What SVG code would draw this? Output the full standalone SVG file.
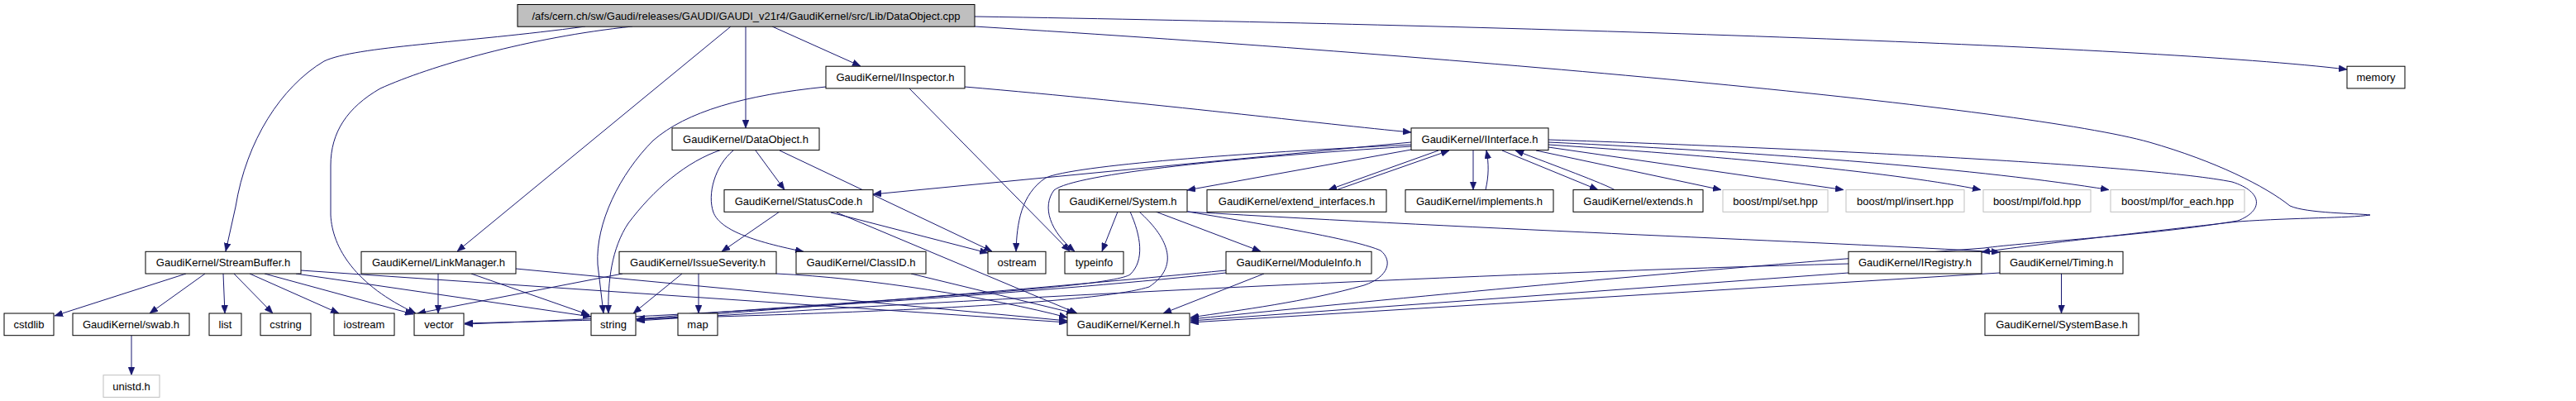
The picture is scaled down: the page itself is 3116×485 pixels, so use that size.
<svg xmlns="http://www.w3.org/2000/svg" width="3116" height="485" viewBox="0 0 3116 485">
<style>
.n rect{fill:#fff;stroke:#000;stroke-width:1}
.n.ext rect{stroke:#bfbfbf}
.n.root rect{fill:#bfbfbf}
.n text{font-family:"Liberation Sans",Arial,sans-serif;font-size:13px;text-anchor:middle;fill:#000}
#edges path{fill:none;stroke:#191970;stroke-width:1;marker-end:url(#arr)}
</style>
<defs>
<marker id="arr" viewBox="0 0 10 8" markerWidth="10" markerHeight="8" markerUnits="userSpaceOnUse" refX="10" refY="4" orient="auto">
<path d="M0,0 L10,4 L0,8 z" fill="#191970" stroke="#191970" stroke-width="0.5"/>
</marker>
</defs>
<rect width="3116" height="485" fill="#fff"/>
<g id="edges">
<!-- root -->
<path d="M708,32 C560,52 430,56 392,74 C340,105 298,170 285,250 L273,304"/>
<path d="M765,32 C640,45 520,80 460,107 C420,130 400,160 400,200 L400,260 C402,300 430,345 503,379"/>
<path d="M884,32 L553,304"/>
<path d="M902,32 L902,155"/>
<path d="M934,32 L1041,80"/>
<path d="M1179,20 C1800,30 2600,55 2839,84"/>
<path d="M1179,32 C1800,70 2450,130 2600,172 C2680,195 2740,225 2770,249 C2790,258 2850,258 2867,260 C2840,264 2780,263 2707,268 C2600,280 2460,296 2397,305"/>
<!-- IInspector -->
<path d="M1167,105 C1400,125 1600,150 1707,160"/>
<path d="M999,105 C900,115 830,135 790,170 C750,210 720,270 723,320 L730,379"/>
<path d="M1100,107 L1294,304"/>
<!-- DataObject -->
<path d="M914,182 L949,229.6"/>
<path d="M887,182 C865,200 855,235 863,257 C870,275 900,290 972,304.3"/>
<path d="M873,181 C830,195 790,230 760,270 C740,300 735,340 736,379"/>
<path d="M943,182 L1200,304"/>
<!-- StatusCode -->
<path d="M943,256 L873,304.3"/>
<path d="M1005,257 L1195,306"/>
<path d="M1012,257 L1303,379"/>
<!-- IInterface -->
<path d="M1707,172 L1056,235"/>
<path d="M1707,181 L1436,230"/>
<path d="M1707,175 C1500,185 1300,200 1265,215 C1235,235 1230,270 1229,304"/>
<path d="M1707,177 C1500,190 1300,210 1275,230 C1260,250 1270,280 1300,304"/>
<path d="M1740,182 L1607,229.6"/>
<path d="M1782,182 L1782,229.6"/>
<path d="M1817,182 L1933,229.6"/>
<path d="M1858,182 L2082,229.6"/>
<path d="M1873,178 L2230,229.6"/>
<path d="M1873,175 C2100,190 2300,210 2396,229.6"/>
<path d="M1873,172 C2150,185 2400,205 2551,229.6"/>
<path d="M1873,169 C2200,180 2600,200 2700,220 C2738,232 2738,255 2707,267 C2600,285 2450,293 2400,300 C2000,330 1700,360 1440,386"/>
<!-- back edges to IInterface -->
<path d="M1617,229.6 L1753,182"/>
<path d="M1797,229.6 C1801,212 1801,198 1798,182"/>
<path d="M1953,229.6 C1940,222 1880,200 1833,182"/>
<!-- System -->
<path d="M1352,256 L1333,304"/>
<path d="M1398,256 L1525,304"/>
<path d="M1436,256 C1800,278 2200,292 2419,305"/>
<path d="M1437,256 C1550,275 1640,290 1670,303 C1685,315 1680,335 1650,345 C1580,365 1500,375 1440,384"/>
<path d="M1367,256 C1380,285 1385,315 1367,332 C1340,350 1000,365 770,386"/>
<path d="M1378,256 C1410,285 1430,320 1390,347 C1300,375 800,385 562,391"/>
<!-- ModuleInfo -->
<path d="M1529,331 L1407,379"/>
<path d="M1483,327 C1300,345 1000,370 770,387"/>
<path d="M1483,330 C1300,350 900,380 562,392"/>
<!-- IRegistry -->
<path d="M2236,319 C1800,330 1200,360 770,388"/>
<path d="M2236,330 L1440,388"/>
<!-- Timing -->
<path d="M2419,330 L1440,390"/>
<path d="M2493.5,331 L2493.5,379"/>
<!-- StreamBuffer -->
<path d="M225,331 L66,382"/>
<path d="M248,331 L181,379"/>
<path d="M270,331 L272,379"/>
<path d="M283,331 L330,379"/>
<path d="M302,331 L410,379"/>
<path d="M320,331 L500,380"/>
<path d="M358,331 L715,383"/>
<path d="M364,327 L1291,390"/>
<!-- LinkManager -->
<path d="M530,331 L530,379"/>
<path d="M570,331 L713,381"/>
<path d="M624,325 L1291,388"/>
<!-- IssueSeverity -->
<path d="M753,331 L505,379"/>
<path d="M825,331 L766,379"/>
<path d="M845,331 L845,379"/>
<path d="M939,331 C1050,336 1200,360 1291,384"/>
<!-- ClassID -->
<path d="M1102,331 L1300,379"/>
<!-- swab -->
<path d="M159,406 L159,453.7"/>
</g>
<g id="n-root" class="n root"><rect x="626" y="5.5" width="553" height="26.7"/><text x="902.5" y="23.5">/afs/cern.ch/sw/Gaudi/releases/GAUDI/GAUDI_v21r4/GaudiKernel/src/Lib/DataObject.cpp</text></g>
<g id="n-IInspector" class="n"><rect x="999" y="80.2" width="168" height="26.7"/><text x="1083" y="98.2">GaudiKernel/IInspector.h</text></g>
<g id="n-memory" class="n"><rect x="2839" y="80.2" width="70" height="26.7"/><text x="2874" y="98.2">memory</text></g>
<g id="n-DataObject" class="n"><rect x="813" y="154.9" width="178" height="26.7"/><text x="902" y="172.9">GaudiKernel/DataObject.h</text></g>
<g id="n-IInterface" class="n"><rect x="1707" y="154.9" width="166" height="26.7"/><text x="1790" y="172.9">GaudiKernel/IInterface.h</text></g>
<g id="n-StatusCode" class="n"><rect x="876" y="229.6" width="180" height="26.7"/><text x="966" y="247.6">GaudiKernel/StatusCode.h</text></g>
<g id="n-System" class="n"><rect x="1281" y="229.6" width="155" height="26.7"/><text x="1358.5" y="247.6">GaudiKernel/System.h</text></g>
<g id="n-extend_interfaces" class="n"><rect x="1460" y="229.6" width="217" height="26.7"/><text x="1568.5" y="247.6">GaudiKernel/extend_interfaces.h</text></g>
<g id="n-implements" class="n"><rect x="1700" y="229.6" width="179" height="26.7"/><text x="1789.5" y="247.6">GaudiKernel/implements.h</text></g>
<g id="n-extends" class="n"><rect x="1903" y="229.6" width="157" height="26.7"/><text x="1981.5" y="247.6">GaudiKernel/extends.h</text></g>
<g id="n-set" class="n ext"><rect x="2084" y="229.6" width="127" height="26.7"/><text x="2147.5" y="247.6">boost/mpl/set.hpp</text></g>
<g id="n-insert" class="n ext"><rect x="2233" y="229.6" width="143" height="26.7"/><text x="2304.5" y="247.6">boost/mpl/insert.hpp</text></g>
<g id="n-fold" class="n ext"><rect x="2399" y="229.6" width="130" height="26.7"/><text x="2464" y="247.6">boost/mpl/fold.hpp</text></g>
<g id="n-for_each" class="n ext"><rect x="2553" y="229.6" width="162" height="26.7"/><text x="2634" y="247.6">boost/mpl/for_each.hpp</text></g>
<g id="n-StreamBuffer" class="n"><rect x="176" y="304.3" width="188" height="26.7"/><text x="270" y="322.3">GaudiKernel/StreamBuffer.h</text></g>
<g id="n-LinkManager" class="n"><rect x="437" y="304.3" width="187" height="26.7"/><text x="530.5" y="322.3">GaudiKernel/LinkManager.h</text></g>
<g id="n-IssueSeverity" class="n"><rect x="749" y="304.3" width="190" height="26.7"/><text x="844" y="322.3">GaudiKernel/IssueSeverity.h</text></g>
<g id="n-ClassID" class="n"><rect x="963" y="304.3" width="157" height="26.7"/><text x="1041.5" y="322.3">GaudiKernel/ClassID.h</text></g>
<g id="n-ostream" class="n"><rect x="1195" y="304.3" width="70" height="26.7"/><text x="1230" y="322.3">ostream</text></g>
<g id="n-typeinfo" class="n"><rect x="1288" y="304.3" width="71" height="26.7"/><text x="1323.5" y="322.3">typeinfo</text></g>
<g id="n-ModuleInfo" class="n"><rect x="1483" y="304.3" width="176" height="26.7"/><text x="1571" y="322.3">GaudiKernel/ModuleInfo.h</text></g>
<g id="n-IRegistry" class="n"><rect x="2236" y="304.3" width="161" height="26.7"/><text x="2316.5" y="322.3">GaudiKernel/IRegistry.h</text></g>
<g id="n-Timing" class="n"><rect x="2419" y="304.3" width="149" height="26.7"/><text x="2493.5" y="322.3">GaudiKernel/Timing.h</text></g>
<g id="n-cstdlib" class="n"><rect x="5" y="379" width="60" height="26.7"/><text x="35" y="397">cstdlib</text></g>
<g id="n-swab" class="n"><rect x="88" y="379" width="141" height="26.7"/><text x="158.5" y="397">GaudiKernel/swab.h</text></g>
<g id="n-list" class="n"><rect x="253" y="379" width="39" height="26.7"/><text x="272.5" y="397">list</text></g>
<g id="n-cstring" class="n"><rect x="315" y="379" width="61" height="26.7"/><text x="345.5" y="397">cstring</text></g>
<g id="n-iostream" class="n"><rect x="404" y="379" width="73" height="26.7"/><text x="440.5" y="397">iostream</text></g>
<g id="n-vector" class="n"><rect x="501" y="379" width="60" height="26.7"/><text x="531" y="397">vector</text></g>
<g id="n-string" class="n"><rect x="715" y="379" width="54" height="26.7"/><text x="742" y="397">string</text></g>
<g id="n-map" class="n"><rect x="820" y="379" width="48" height="26.7"/><text x="844" y="397">map</text></g>
<g id="n-Kernel" class="n"><rect x="1291" y="379" width="148" height="26.7"/><text x="1365" y="397">GaudiKernel/Kernel.h</text></g>
<g id="n-SystemBase" class="n"><rect x="2401" y="379" width="186" height="26.7"/><text x="2494" y="397">GaudiKernel/SystemBase.h</text></g>
<g id="n-unistd" class="n ext"><rect x="125" y="453.7" width="68" height="26.7"/><text x="159" y="471.7">unistd.h</text></g>
</svg>
